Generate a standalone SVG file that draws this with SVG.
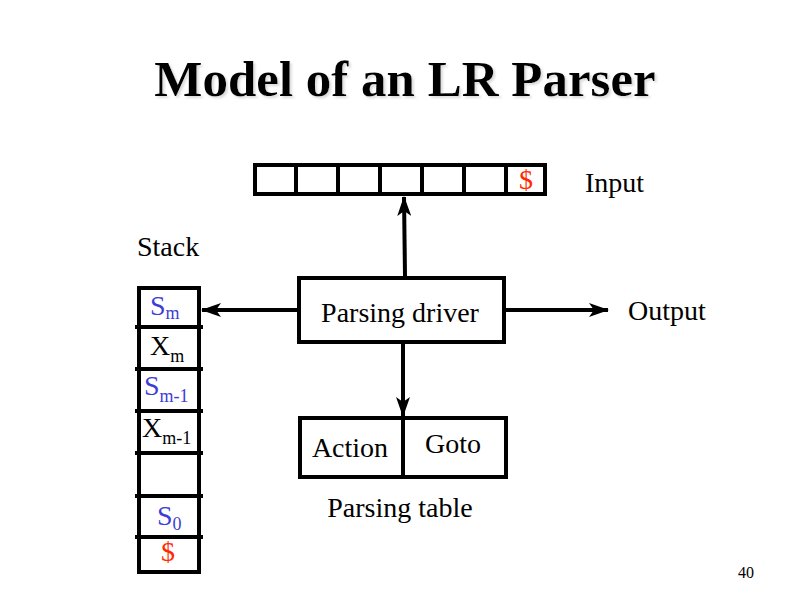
<svg xmlns="http://www.w3.org/2000/svg" width="786" height="604" viewBox="0 0 786 604">
<defs>
<marker id="arr" viewBox="0 0 20 14" refX="19" refY="7" markerWidth="20" markerHeight="14" markerUnits="userSpaceOnUse" orient="auto">
<path d="M0,0 L20,7 L0,14 L5,7 Z" fill="#000"/>
</marker>
<filter id="sh" x="-5%" y="-20%" width="110%" height="140%">
<feOffset dx="2" dy="2" in="SourceAlpha" result="o"/>
<feGaussianBlur in="o" stdDeviation="1" result="b"/>
<feColorMatrix in="b" type="matrix" values="0 0 0 0 0.6 0 0 0 0 0.6 0 0 0 0 0.6 0 0 0 0.7 0" result="c"/>
<feMerge><feMergeNode in="c"/><feMergeNode in="SourceGraphic"/></feMerge>
</filter>
</defs>
<style>
text{font-family:"Liberation Serif","Times New Roman",serif;fill:#000}
.box{fill:#fff;stroke:#000;stroke-width:4}
.ln{stroke:#000;stroke-width:4;fill:none}
.lbl{font-size:28px}
.blue{fill:#3d3dd6}
.red{fill:#ff2a00}
.sub{font-size:18px}
.con{stroke:#000;stroke-width:4;fill:none}
</style>
<rect width="786" height="604" fill="#fff"/>
<text x="405" y="96" text-anchor="middle" font-size="51" font-weight="bold" filter="url(#sh)">Model of an LR Parser</text>

<g id="input">
<rect class="box" x="255" y="165" width="290" height="29"/>
<path class="ln" d="M296,165V194M338,165V194M380,165V194M422,165V194M464,165V194M506,165V194"/>
<text class="lbl red" x="526" y="189" text-anchor="middle">$</text>
<text class="lbl" x="585" y="192">Input</text>
</g>

<g id="stack">
<rect class="box" x="139" y="288" width="60" height="284"/>
<path class="ln" d="M135,327H203M135,369H203M135,411H203M135,453H203M135,496H203M135,537H203"/>
<text class="lbl" x="137" y="256">Stack</text>
<text class="lbl blue" x="150" y="315">S<tspan class="sub" dy="4">m</tspan></text>
<text class="lbl" x="150" y="355">X<tspan class="sub" dy="7">m</tspan></text>
<text class="lbl blue" x="144" y="395">S<tspan class="sub" dy="7">m-1</tspan></text>
<text class="lbl" x="142" y="437">X<tspan class="sub" dy="7">m-1</tspan></text>
<text class="lbl blue" x="157" y="525">S<tspan class="sub" dy="5">0</tspan></text>
<text class="lbl red" x="168" y="561" text-anchor="middle">$</text>
</g>

<g id="driver">
<rect class="box" x="299" y="278" width="205" height="64"/>
<text class="lbl" x="400" y="322" text-anchor="middle">Parsing driver</text>
</g>

<g id="table">
<rect class="box" x="300" y="418" width="206" height="59"/>
<path class="ln" d="M403,418V477"/>
<text class="lbl" x="350" y="457" text-anchor="middle">Action</text>
<text class="lbl" x="453" y="453" text-anchor="middle">Goto</text>
<text class="lbl" x="400" y="517" text-anchor="middle">Parsing table</text>
</g>

<g id="output">
<text class="lbl" x="628" y="320">Output</text>
</g>

<g id="connectors">
<line class="con" x1="405" y1="276" x2="404" y2="197" marker-end="url(#arr)"/>
<line class="con" x1="297" y1="310" x2="202" y2="310" marker-end="url(#arr)"/>
<line class="con" x1="506" y1="310" x2="608" y2="310" marker-end="url(#arr)"/>
<line class="con" x1="403" y1="344" x2="403" y2="416" marker-end="url(#arr)"/>
</g>

<text x="738" y="578" font-size="16">40</text>
</svg>
